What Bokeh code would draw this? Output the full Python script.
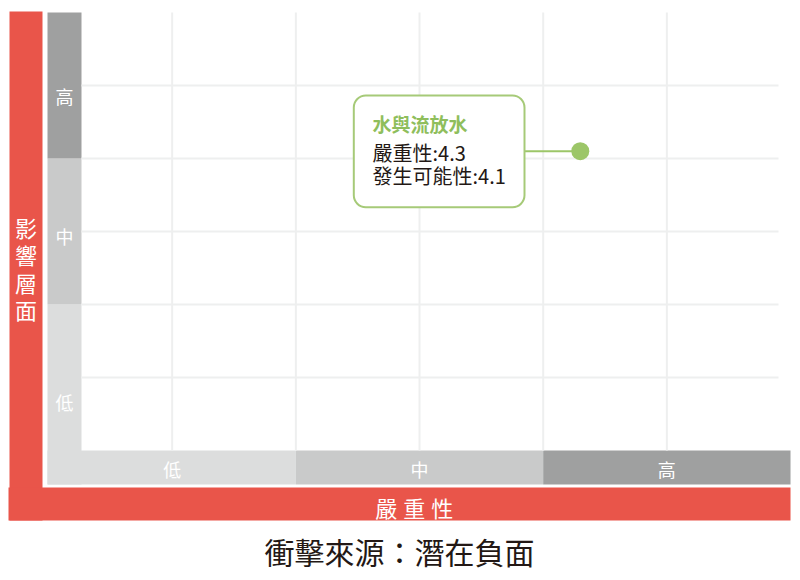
from bokeh.plotting import figure
from bokeh.models import Range1d, BoxAnnotation, ColumnDataSource
from bokeh.core.properties import value
from bokeh.embed import file_html
from bokeh.resources import INLINE

# ---------------- data ----------------
levels = ["低", "中", "高"]
band_edges = [0, 2, 4, 6]
band_colors = ["#DCDDDD", "#C9CACA", "#9FA0A0"]
x_title = "嚴重性"
y_title = "影響層面"
likelihood_label = "發生可能性"
chart_title = "衝擊來源：潛在負面"
risk_name = ["水與流放水"]
severity = [4.3]
likelihood = [4.1]

# ---------------- layout constants ----------------
W, H = 792, 572
X0PX, UX = 48.0, 123.67    # pixel position of x=0, pixels per unit
Y0PX, UY = 450.0, 73.0     # pixel position (from top) of y=0, pixels per unit
FONT = value("Noto Sans CJK TC")
RED = "#E9554A"
GREEN = "#9CC668"
GRID = "#EEEFEF"
DARK = "#231815"


def px2x(px):
    return (px - X0PX) / UX


def py2y(py):
    return (Y0PX - py) / UY


p = figure(width=W, height=H,
           x_range=Range1d(px2x(0), px2x(W)),
           y_range=Range1d(py2y(H), py2y(0)),
           output_backend="svg", toolbar_location=None,
           x_axis_location=None, y_axis_location=None,
           min_border=0, outline_line_color=None,
           background_fill_color="white", border_fill_color="white")
p.grid.visible = False

# red axis-title bars
p.quad(left=[px2x(9)], right=[px2x(42)], top=[py2y(11)], bottom=[py2y(520)],
       fill_color=RED, line_color=None)
p.quad(left=[px2x(8)], right=[band_edges[-1]], top=[py2y(487)], bottom=[py2y(520)],
       fill_color=RED, line_color=None)

# gray level bands: left column (y) and bottom row (x)
col_l, col_r = px2x(47), px2x(81)
row_b = py2y(484)
y_bottoms = [row_b] + band_edges[1:-1]
p.quad(left=[col_l] * 3, right=[col_r] * 3, bottom=y_bottoms, top=band_edges[1:],
       fill_color=band_colors, line_color=None)
x_lefts = [col_l] + band_edges[1:-1]
p.quad(left=x_lefts, right=band_edges[1:], bottom=[row_b] * 3, top=[0] * 3,
       fill_color=band_colors, line_color=None)

# grid lines
ticks = list(range(band_edges[0] + 1, band_edges[-1]))
p.segment(x0=ticks, x1=ticks, y0=[0] * len(ticks), y1=[band_edges[-1]] * len(ticks),
          line_color=GRID, line_width=2)
p.segment(x0=[col_r] * len(ticks), x1=[px2x(778)] * len(ticks), y0=ticks, y1=ticks,
          line_color=GRID, line_width=2)

# level labels
x_centers = [(a + b) / 2 for a, b in zip(band_edges[:-1], band_edges[1:])]
p.text(x=x_centers, y=[py2y(468)] * 3, text=levels, text_color="white",
       text_font=FONT, text_font_size="18px", text_align="center", text_baseline="middle")
y_label_pos = [py2y(401), py2y(235), py2y(95)]
p.text(x=[(col_l + col_r) / 2] * 3, y=y_label_pos, text=levels, text_color="white",
       text_font=FONT, text_font_size="18px", text_align="center", text_baseline="middle")

# axis titles (character by character)
yt_chars = list(y_title)
yt_center = 267.5
yt_step = 27.5
p.text(x=[px2x(25.5)] * len(yt_chars),
       y=[py2y(yt_center + (i - (len(yt_chars) - 1) / 2) * yt_step) for i in range(len(yt_chars))],
       text=yt_chars, text_color="white", text_font=FONT, text_font_size="22px",
       text_align="center", text_baseline="middle")
xt_chars = list(x_title)
xt_center = 413.8
xt_step = 28
p.text(x=[px2x(xt_center + (i - (len(xt_chars) - 1) / 2) * xt_step) for i in range(len(xt_chars))],
       y=[py2y(506)] * len(xt_chars),
       text=xt_chars, text_color="white", text_font=FONT, text_font_size="22px",
       text_align="center", text_baseline="middle")

# chart title
p.text(x=[px2x(399)], y=[py2y(550.5)], text=[chart_title], text_color=DARK,
       text_font=FONT, text_font_size="30px", text_align="center", text_baseline="middle")

# risk point with callout
src = ColumnDataSource(dict(x=severity, y=likelihood, name=risk_name))
box_l, box_r = px2x(353.3), px2x(524)
box_t, box_b = py2y(95), py2y(206.7)
p.segment(x0=[box_r], x1=severity, y0=likelihood, y1=likelihood,
          line_color=GREEN, line_width=2)
p.scatter(x="x", y="y", source=src, size=18, marker="circle",
          fill_color=GREEN, line_color=None)
box = BoxAnnotation(left=box_l, right=box_r, top=box_t, bottom=box_b,
                    fill_color="white", fill_alpha=1.0,
                    line_color="#A6CA78", line_alpha=1.0, line_width=2,
                    border_radius=12)
p.add_layout(box)
tx = px2x(372)
r1 = p.text(x=[tx], y=[py2y(123)], text=risk_name, text_color="#8FBE5C",
            text_font=FONT, text_font_size="19px", text_font_style="bold",
            text_baseline="middle")
r2 = p.text(x=[tx, tx], y=[py2y(151.7), py2y(175)],
            text=[f"{x_title}:{severity[0]}", f"{likelihood_label}:{likelihood[0]}"],
            text_color=DARK, text_font=FONT, text_font_size="20px",
            text_baseline="middle")
r1.level = "overlay"
r2.level = "overlay"

open("out.html", "w").write(file_html(p, INLINE))
